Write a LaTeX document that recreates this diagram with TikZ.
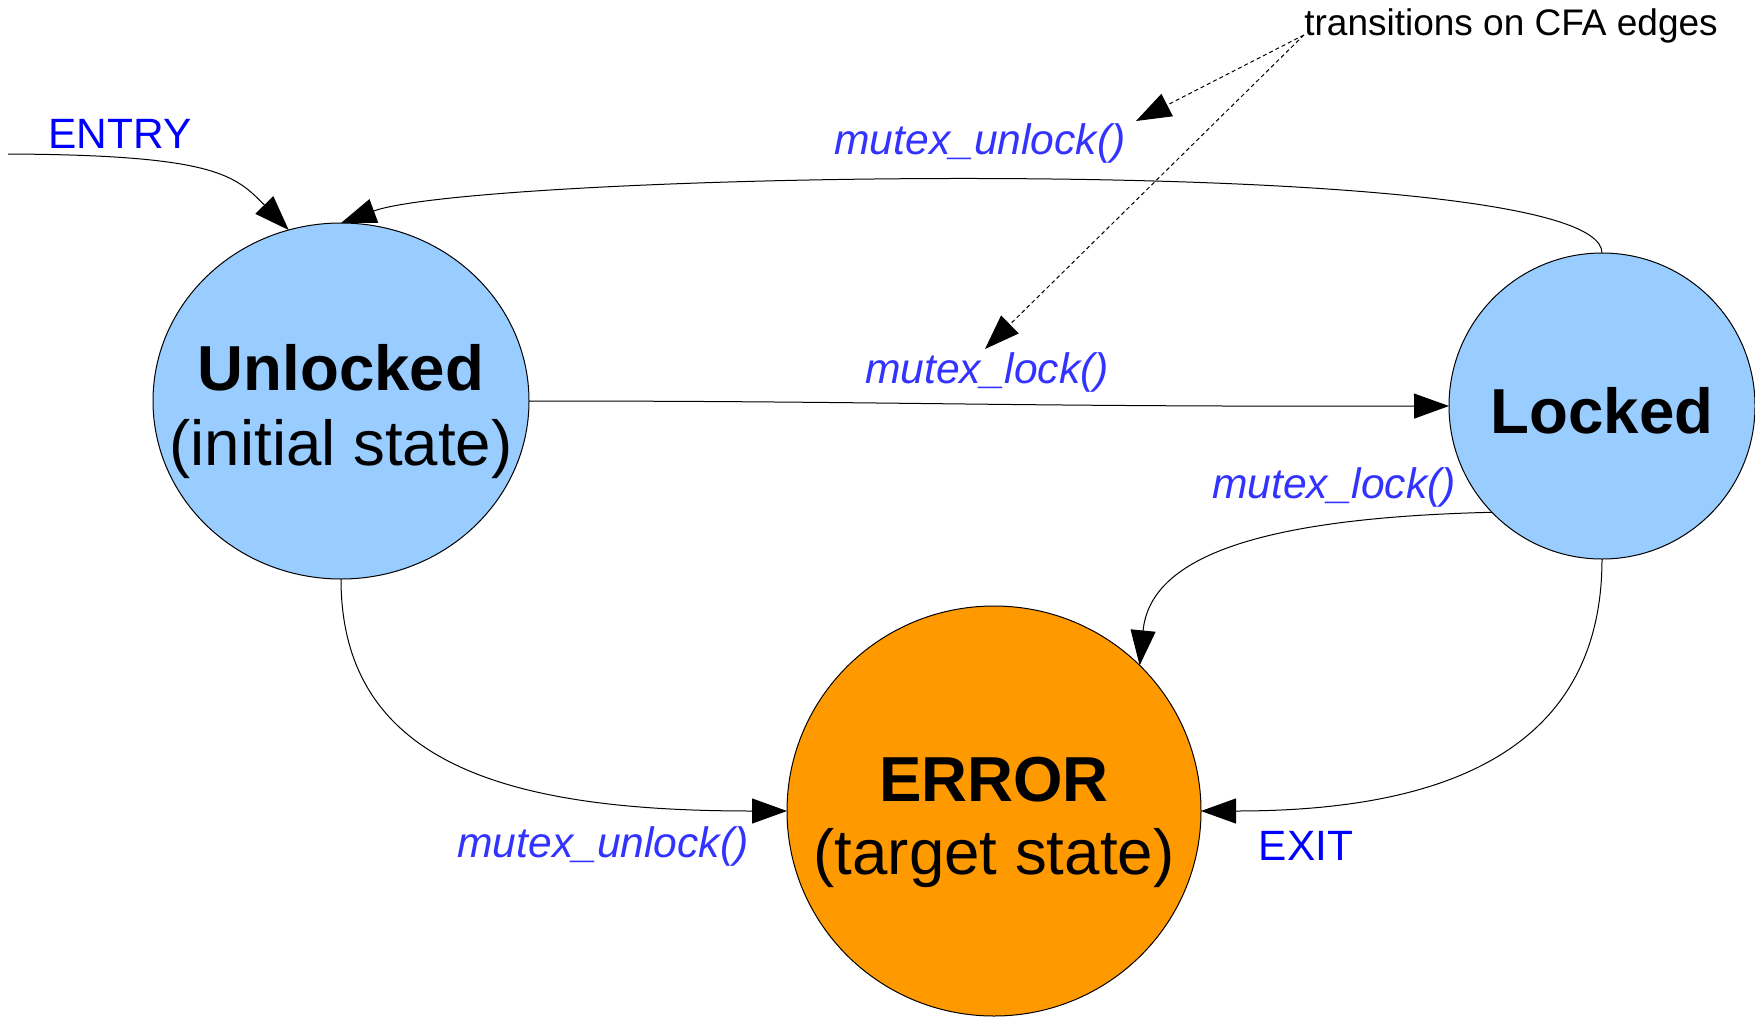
\documentclass[tikz,border=0pt]{standalone}
\usepackage{fontspec}
\setmainfont{Liberation Sans}
\usetikzlibrary{shapes.geometric,arrows.meta}
\definecolor{stblue}{HTML}{99CCFF}
\definecolor{storange}{HTML}{FF9900}
\definecolor{pureblue}{HTML}{0000FF}
\definecolor{lblblue}{HTML}{3333FF}
\begin{document}
\begin{tikzpicture}[x=0.5pt,y=-0.5pt,
  statebox/.style={ellipse, draw=black, line width=0.5pt, inner sep=0pt, outer sep=0pt},
  boldtxt/.style={font=\fontsize{31.8pt}{36pt}\selectfont\bfseries, inner sep=0pt, anchor=base},
  plaintxt/.style={font=\fontsize{31.8pt}{36pt}\selectfont, inner sep=0pt, anchor=base},
  lbl/.style={font=\fontsize{21.3pt}{24pt}\selectfont\itshape, text=lblblue, inner sep=0pt, anchor=base},
  io/.style={font=\fontsize{21.2pt}{24pt}\selectfont, text=pureblue, inner sep=0pt, anchor=base},
  notetxt/.style={font=\fontsize{18.5pt}{22pt}\selectfont, inner sep=0pt, anchor=base},
  trans/.style={-{Triangle[length=17.5pt,width=12.5pt]}, line width=0.5pt},
  note/.style={-{Triangle[length=17.5pt,width=12.5pt]}, line width=0.5pt, dash pattern=on 2pt off 1.5pt}]
\useasboundingbox (0,0) rectangle (1755,1017);
% states
\node[statebox, fill=stblue, minimum width=188pt, minimum height=178pt] (unlocked) at (341,401) {};
\node[statebox, fill=stblue, minimum width=153pt, minimum height=153pt] (locked) at (1602,406) {};
\node[statebox, fill=storange, minimum width=207pt, minimum height=205pt] (error) at (994,811) {};
% state texts
\node[boldtxt] (tunl) at (341,390) {Unlocked};
\node[plaintxt] (tinit) at (341,465) {(initial state)};
\node[boldtxt] (tlock) at (1602,433) {Locked};
\node[boldtxt] (terr) at (994,801) {ERROR};
\node[plaintxt] (ttarget) at (994,874) {(target state)};
% labels
\node[io] (entry) at (120,148) {ENTRY};
\node[io] (exit) at (1306,860) {EXIT};
\node[lbl] (topunlock) at (980,154) {mutex\_unlock()};
\node[lbl] (midlock) at (987,383) {mutex\_lock()};
\node[lbl] (rightlock) at (1334,498) {mutex\_lock()};
\node[lbl] (botunlock) at (603,857) {mutex\_unlock()};
\node[notetxt] (note) at (1511,35) {transitions on CFA edges};
% connectors
\coordinate (entrystart) at (8,154);
\draw[trans] (entrystart) .. controls (215,155) and (235,175) .. (unlocked.107);
\draw[trans] (locked.north) .. controls (1602,150) and (480,172) .. (unlocked.north);
\draw[trans] (unlocked.east) .. controls (900,401) and (1000,407) .. (locked.west);
\draw[trans] (locked.224) .. controls (1250,518) and (1150,560) .. (error.45);
\draw[trans] (locked.south) .. controls (1602,770) and (1410,811) .. (error.east);
\draw[trans] (unlocked.south) .. controls (341,770) and (520,811) .. (error.west);
% annotation arrows
\coordinate (tip1) at (1136,121);
\coordinate (tip2) at (985,349);
\draw[note] (note.base west) -- (tip1);
\draw[note] (note.base west) -- (tip2);
\end{tikzpicture}
\end{document}
